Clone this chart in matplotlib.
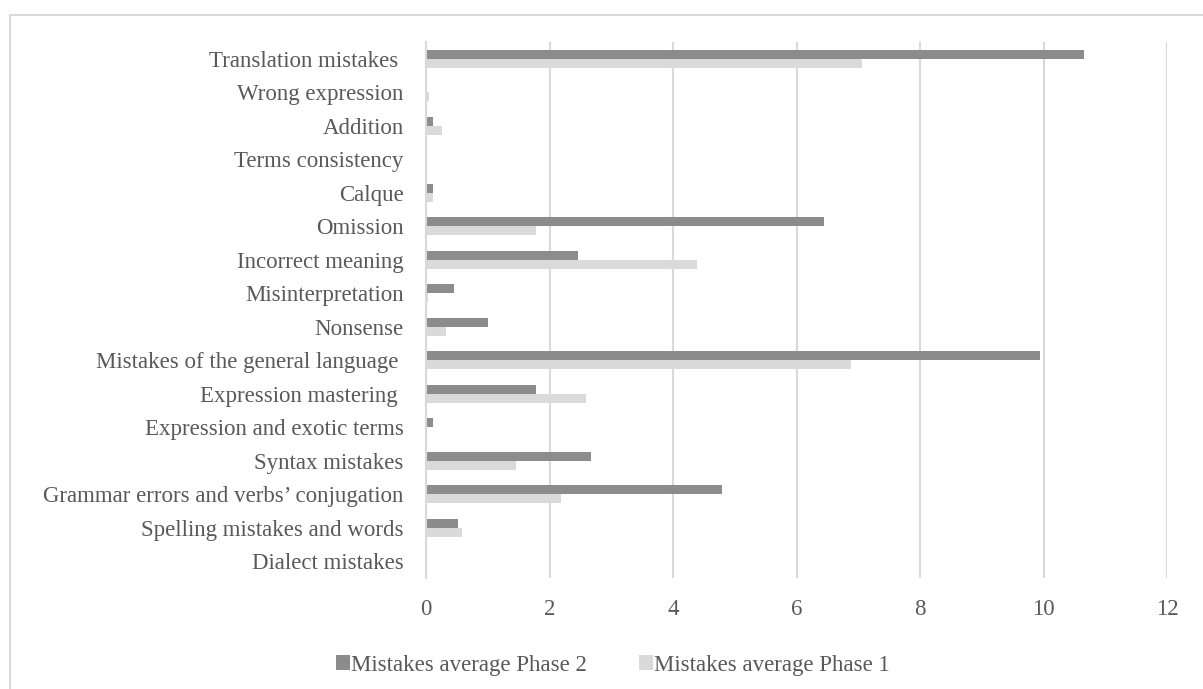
import matplotlib.pyplot as plt
import numpy as np
from matplotlib.patches import Rectangle

# Categories from top to bottom as they appear in the chart
categories = [
    "Translation mistakes ",
    "Wrong expression",
    "Addition",
    "Terms consistency",
    "Calque",
    "Omission",
    "Incorrect meaning",
    "Misinterpretation",
    "Nonsense",
    "Mistakes of the general language ",
    "Expression mastering ",
    "Expression and exotic terms",
    "Syntax mistakes",
    "Grammar errors and verbs\u2019 conjugation",
    "Spelling mistakes and words",
    "Dialect mistakes",
]

phase2 = [10.65, 0.0, 0.11, 0.0, 0.11, 6.45, 2.46, 0.46, 1.0,
          9.95, 1.78, 0.12, 2.67, 4.8, 0.52, 0.0]
phase1 = [7.06, 0.05, 0.26, 0.0, 0.11, 1.78, 4.39, 0.04, 0.32,
          6.88, 2.59, 0.0, 1.46, 2.19, 0.59, 0.0]

x_ticks = [0, 2, 4, 6, 8, 10, 12]

dark = "#8c8c8c"
light = "#dadada"
text_col = "#595959"
grid_col = "#d9d9d9"
fsize = 16.5

plt.rcParams['font.family'] = ['Liberation Serif', 'DejaVu Serif']

fig = plt.figure(figsize=(12.03, 6.89), dpi=100)
ax = fig.add_axes([426 / 1203, 1 - 578 / 689, (1167 - 426) / 1203, (578 - 42) / 689])

# outer chart frame (cut off on the right and bottom)
fig.patches.append(Rectangle((10 / 1203, -0.05), 1.2, 1 - 15 / 689 + 0.05,
                             transform=fig.transFigure, fill=False,
                             edgecolor="#d9d9d9", linewidth=1.5))

y = np.arange(len(categories))
h = 0.27
ax.barh(y - h / 2, phase2, height=h, color=dark, label="Mistakes average Phase 2")
ax.barh(y + h / 2, phase1, height=h, color=light, label="Mistakes average Phase 1")

ax.set_ylim(len(categories) - 0.5, -0.5)
ax.set_xlim(0, 12)
ax.set_xticks(x_ticks)
ax.set_yticks(y)
ax.set_yticklabels(categories)

ax.grid(axis="x", color=grid_col, linewidth=1.5)
ax.set_axisbelow(True)
for s in ["top", "right", "bottom"]:
    ax.spines[s].set_visible(False)
ax.spines["left"].set_color(grid_col)
ax.spines["left"].set_linewidth(1.5)

ax.tick_params(axis="both", length=0, labelsize=fsize, colors=text_col)
ax.tick_params(axis="x", pad=15)
ax.tick_params(axis="y", pad=16)

fig.legend(loc="center", bbox_to_anchor=(613 / 1203, 1 - 665 / 689), ncol=2,
           frameon=False, fontsize=fsize, labelcolor=text_col,
           handlelength=0.6, handleheight=0.6, handletextpad=0.05, columnspacing=2.3)

fig.savefig("out.png", dpi=100)
